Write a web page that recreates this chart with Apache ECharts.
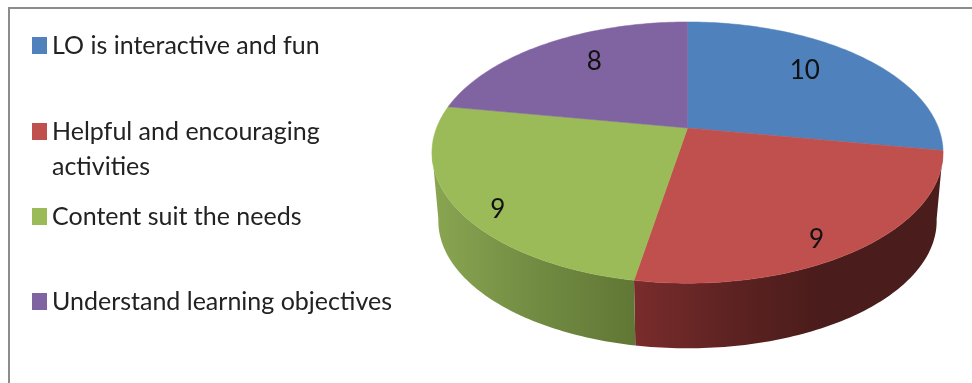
<!DOCTYPE html>
<html>
<head>
<meta charset="utf-8">
<style>html,body{margin:0;padding:0;background:#fff}#chart{width:972px;height:383px}</style>
<script src="https://cdn.jsdelivr.net/npm/echarts@6/dist/echarts.min.js"></script>
</head>
<body>
<div id="chart"></div>
<script>
// Survey responses per statement
const categories = [
  'LO is interactive and fun',
  'Helpful and encouraging activities',
  'Content suit the needs',
  'Understand learning objectives'
];
const values = [10, 9, 9, 8];

// Slice colours and the side-wall shading of the two front slices
const topColors = ['#4f81bd', '#c0504d', '#9bbb59', '#8064a2'];
const wallStops = [
  null,
  [[0, '#7a2c2c'], [0.3, '#5e2322'], [0.6, '#4a1c1b'], [1, '#4a1c1b']],
  [[0, '#8aa651'], [0.5, '#728c43'], [1, '#617735']],
  null
];
// Legend rows: top edge of each row
const legendTops = [28, 79, 199, 284];
// Label nudges in pixels from the slice's radial anchor
const labelNudge = [[-15, -2], [7, 24], [-22, 23], [16, -1]];

// Tilted-disc projection: unit circle to the screen with foreshortening
const center = { x: 687.5, y: 128 };
const proj = { a: 251, b: 126, k: -0.188 };
const depth = { shrink: 0.975, drop: 69 };
const frontArc = [100, 260];
const total = values.reduce((s, v) => s + v, 0);

function project(deg, r) {
  const t = deg * Math.PI / 180;
  const u = r * Math.sin(t), v = -r * Math.cos(t);
  const d = 1 + proj.k * v;
  return [proj.a * u / d, proj.b * v / d];
}
function sweep(from, to, fn) {
  const pts = [];
  const n = Math.max(2, Math.ceil(Math.abs(to - from)));
  for (let i = 0; i <= n; i++) pts.push(fn(from + (to - from) * i / n));
  return pts;
}

function sliceRenderer(index) {
  return function (params, api) {
    const value = api.value(0);
    let start = 0;
    for (let i = 0; i < index; i++) start += values[i] / total * 360;
    const end = start + value / total * 360;
    const children = [];

    // Side wall: only the part of the rim that faces the viewer
    const wFrom = Math.max(start, frontArc[0]);
    const wTo = Math.min(end, frontArc[1]);
    if (wTo > wFrom && wallStops[index]) {
      const upper = sweep(wFrom, wTo, a => {
        const p = project(a, 1);
        return [center.x + p[0], center.y + p[1]];
      });
      const lower = sweep(wTo, wFrom, a => {
        const p = project(a, 1);
        return [center.x + p[0] * depth.shrink, center.y + p[1] * depth.shrink + depth.drop];
      });
      // Wall gradient runs left to right across the screen
      const dir = index === 1 ? [1, 0, 0, 0] : [0, 0, 1, 0];
      const stops = wallStops[index].map(s => ({
        offset: index === 1 ? 1 - s[0] : s[0], color: s[1]
      }));
      const grad = new echarts.graphic.LinearGradient(dir[0], dir[1], dir[2], dir[3], stops);
      children.push({
        type: 'polygon',
        shape: { points: upper.concat(lower) },
        style: { fill: grad }
      });
    }

    // Top face
    const rim = sweep(start, end, a => {
      const p = project(a, 1);
      return [center.x + p[0], center.y + p[1]];
    });
    children.push({
      type: 'polygon',
      shape: { points: [[center.x, center.y]].concat(rim) },
      style: { fill: topColors[index], stroke: topColors[index], lineWidth: 0.5 }
    });

    // Value label
    const mid = project((start + end) / 2, 0.75);
    children.push({
      type: 'text',
      style: {
        x: center.x + mid[0] + labelNudge[index][0],
        y: center.y + mid[1] + labelNudge[index][1],
        text: String(value),
        font: '26px Lato',
        fill: '#111',
        align: 'center',
        verticalAlign: 'middle'
      }
    });
    return { type: 'group', children };
  };
}

const chart = echarts.init(document.getElementById('chart'), null, { renderer: 'canvas' });
chart.setOption({
  animation: false,
  backgroundColor: '#fff',
  legend: categories.map((name, i) => ({
    data: [name],
    orient: 'vertical',
    left: 32,
    top: legendTops[i],
    padding: 0,
    icon: 'rect',
    itemWidth: 15,
    itemHeight: 17,
    itemGap: 0,
    selectedMode: false,
    // The long entry wraps; a blank first line keeps its key beside the first line of text
    formatter: n => n.startsWith('Helpful') ? '\nHelpful and encouraging\nactivities' : n,
    textStyle: { fontFamily: 'Lato', fontSize: 25, lineHeight: 35, color: '#222' }
  })),
  graphic: [{
    // Outer chart frame; it continues past the right and bottom edges
    type: 'rect',
    shape: { x: 9, y: 8, width: 1100, height: 500 },
    style: { fill: 'transparent', stroke: '#8c8c8c', lineWidth: 2 },
    silent: true,
    z: 0
  }],
  series: categories.map((name, i) => ({
    type: 'custom',
    name,
    coordinateSystem: 'none',
    itemStyle: { color: topColors[i] },
    data: [[values[i]]],
    renderItem: sliceRenderer(i),
    silent: true
  }))
});
</script>
</body>
</html>
